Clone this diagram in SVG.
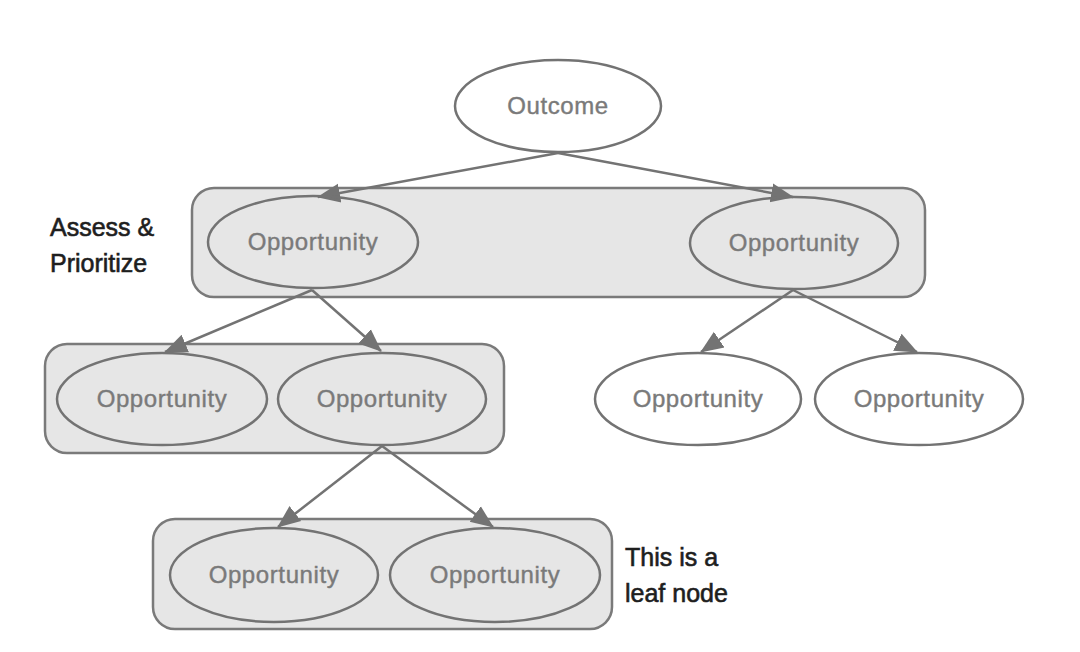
<svg xmlns="http://www.w3.org/2000/svg" width="1080" height="652" viewBox="0 0 1080 652">
<style>
.box{fill:#e6e6e6;stroke:#7a7a7a;stroke-width:2.5}
.ell{fill:none;stroke:#737373;stroke-width:2.5}
.wel{fill:#ffffff;stroke:#737373;stroke-width:2.5}
.lbl{font-family:"Liberation Sans",Arial,sans-serif;font-size:24px;fill:#7a7a7a;stroke:#7a7a7a;stroke-width:0.4;text-anchor:middle;letter-spacing:0.6px}
.note{font-family:"Liberation Sans",Arial,sans-serif;font-size:25px;fill:#1e1e1e;stroke:#1e1e1e;stroke-width:0.6}
.edge{stroke:#737373;stroke-width:2.5;fill:none;marker-end:url(#ah)}
</style>
<defs>
<marker id="ah" markerUnits="userSpaceOnUse" markerWidth="24" markerHeight="22" viewBox="0 0 24 22" refX="22" refY="11" orient="auto">
<path d="M0,1.5 L23,11 L0,20.5 Z" fill="#737373"/>
</marker>
</defs>
<rect width="1080" height="652" fill="#ffffff"/>
<g id="group-level1"><rect class="box" x="192" y="188" width="733" height="109" rx="22"/></g>
<g id="group-level2"><rect class="box" x="45" y="344" width="459" height="109" rx="22"/></g>
<g id="group-level3"><rect class="box" x="153" y="519" width="459" height="110" rx="22"/></g>
<g id="connectors">
<line class="edge" x1="558" y1="153" x2="318" y2="197"/>
<line class="edge" x1="558" y1="153" x2="793" y2="197"/>
<line class="edge" x1="312" y1="290" x2="165" y2="352"/>
<line class="edge" x1="312" y1="290" x2="381" y2="351"/>
<line class="edge" x1="793" y1="290" x2="701" y2="352"/>
<line class="edge" x1="793" y1="290" x2="917" y2="352"/>
<line class="edge" x1="382" y1="446" x2="278" y2="527"/>
<line class="edge" x1="382" y1="446" x2="493" y2="527"/>
</g>
<g id="outcome"><ellipse class="wel" cx="558" cy="106" rx="103" ry="46"/><text class="lbl" x="558" y="114">Outcome</text></g>
<g id="opp-1a"><ellipse class="ell" cx="313" cy="242" rx="105" ry="46"/><text class="lbl" x="313" y="250">Opportunity</text></g>
<g id="opp-1b"><ellipse class="ell" cx="794" cy="243" rx="104" ry="46"/><text class="lbl" x="794" y="251">Opportunity</text></g>
<g id="opp-2a"><ellipse class="ell" cx="162" cy="399" rx="105" ry="46"/><text class="lbl" x="162" y="407">Opportunity</text></g>
<g id="opp-2b"><ellipse class="ell" cx="382" cy="399" rx="104" ry="46"/><text class="lbl" x="382" y="407">Opportunity</text></g>
<g id="opp-2c"><ellipse class="wel" cx="698" cy="399" rx="103" ry="46"/><text class="lbl" x="698" y="407">Opportunity</text></g>
<g id="opp-2d"><ellipse class="wel" cx="919" cy="399" rx="104" ry="46"/><text class="lbl" x="919" y="407">Opportunity</text></g>
<g id="opp-3a"><ellipse class="ell" cx="274" cy="575" rx="104" ry="47"/><text class="lbl" x="274" y="583">Opportunity</text></g>
<g id="opp-3b"><ellipse class="ell" cx="495" cy="575" rx="105" ry="47"/><text class="lbl" x="495" y="583">Opportunity</text></g>
<g id="label-assess"><text class="note" x="50" y="236">Assess &amp;</text><text class="note" x="50" y="272">Prioritize</text></g>
<g id="label-leaf"><text class="note" x="625" y="566">This is a</text><text class="note" x="625" y="602">leaf node</text></g>
</svg>
